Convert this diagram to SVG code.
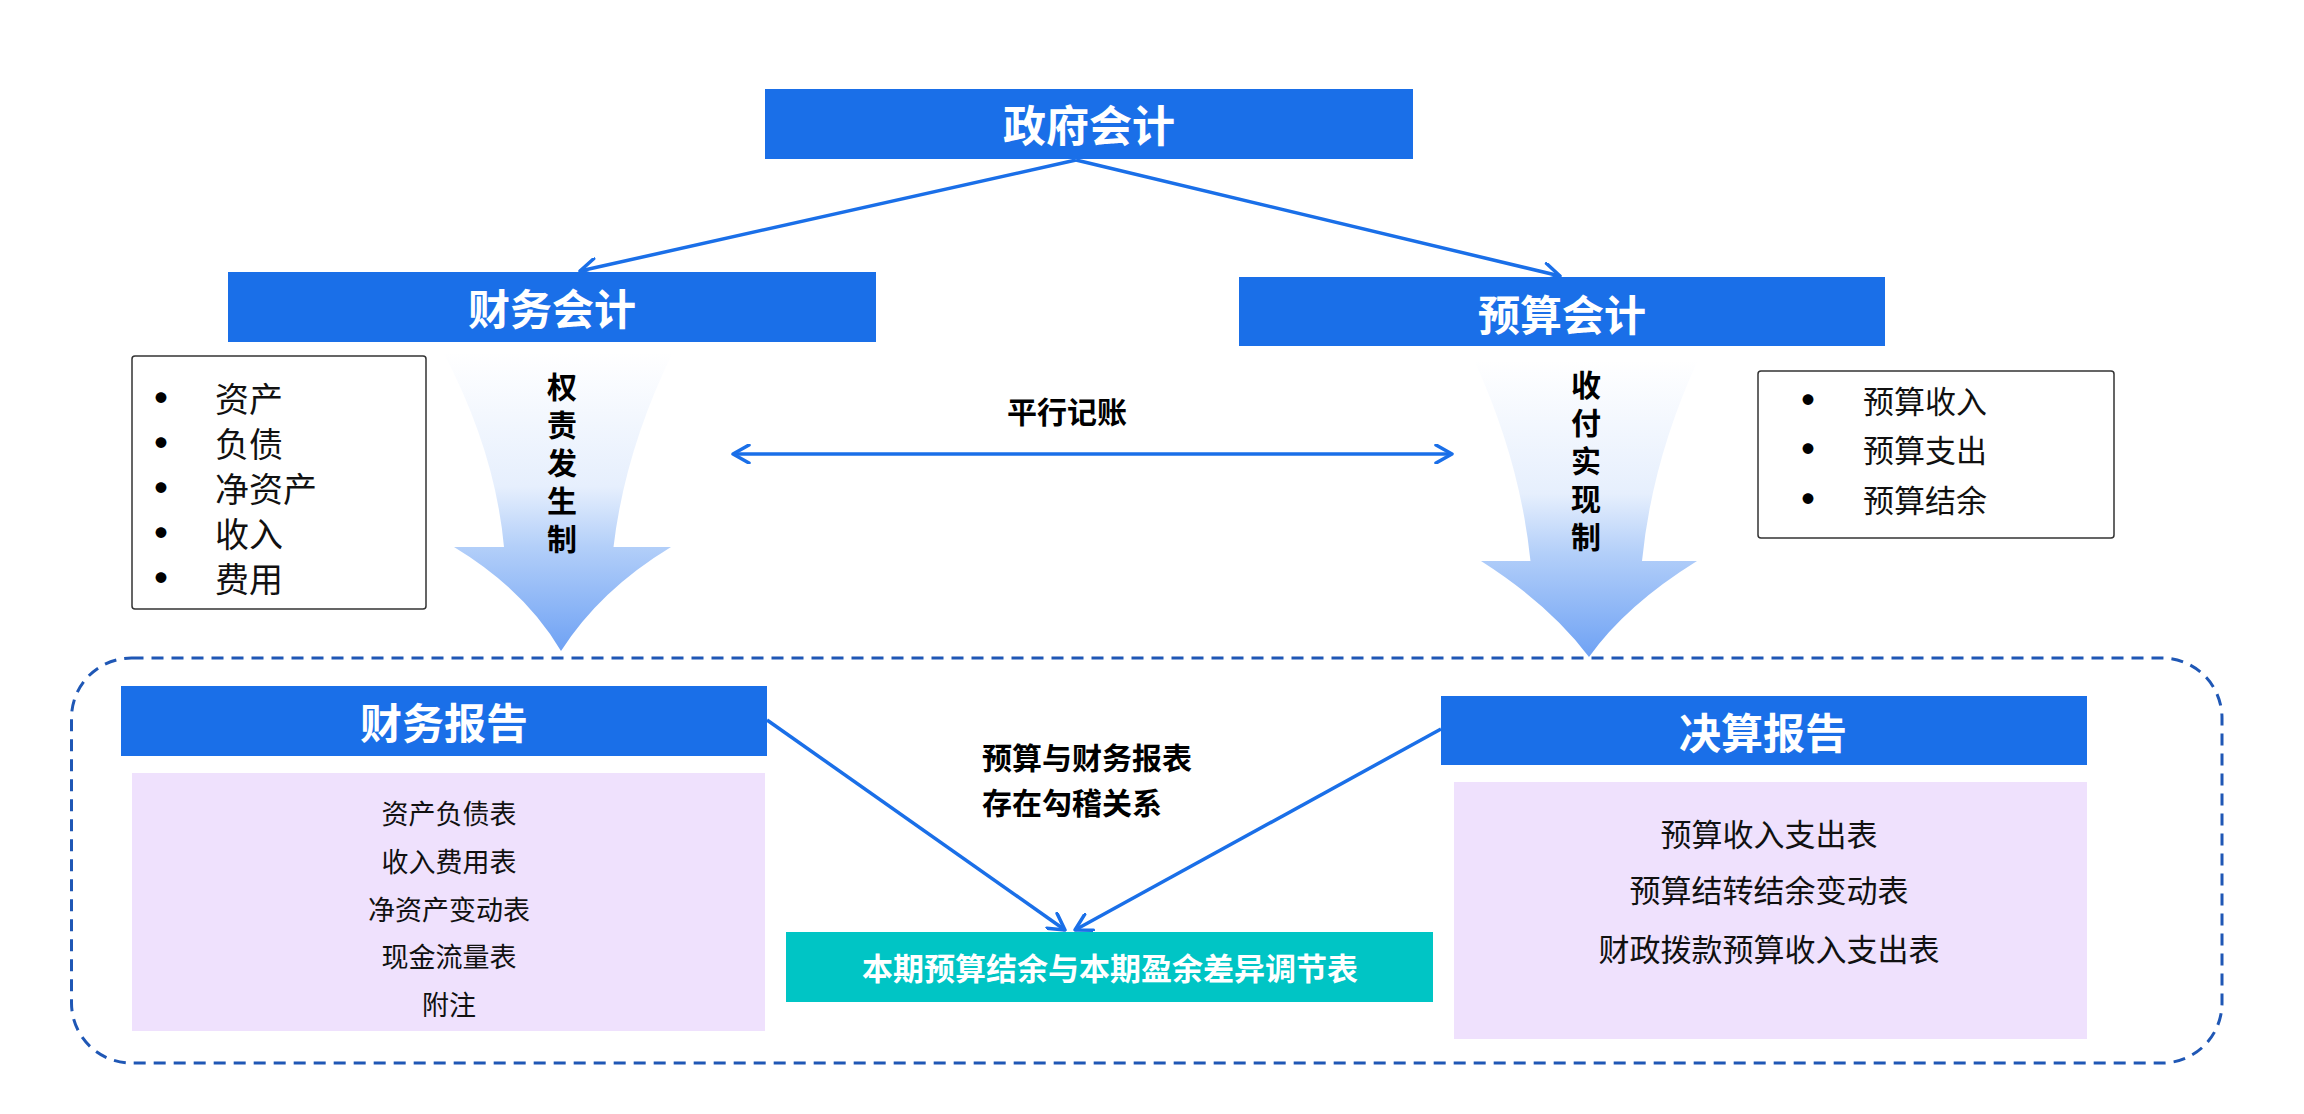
<svg xmlns="http://www.w3.org/2000/svg" width="2304" height="1114" viewBox="0 0 2304 1114">
<defs>
<style>
.box{fill:#1a6fe8}
.title{font-family:"Noto Sans CJK SC","Noto Sans",sans-serif;font-weight:700;fill:#ffffff;text-anchor:middle;dominant-baseline:central}
.lbl{font-family:"Noto Sans CJK SC","Noto Sans",sans-serif;fill:#111111;dominant-baseline:central}
.bul{font-family:"Noto Sans CJK SC","Noto Sans",sans-serif;fill:#000000;dominant-baseline:central;font-size:12px}
.bold{font-family:"Noto Sans CJK SC","Noto Sans",sans-serif;font-weight:700;fill:#000000;dominant-baseline:central}
.vert{font-family:"Noto Sans CJK SC","Noto Sans",sans-serif;font-weight:700;fill:#000000;writing-mode:vertical-rl;font-size:30px;letter-spacing:8px}
.list{fill:#ffffff;stroke:#333333;stroke-width:1.5}
.lav{fill:#efe1fd}
.conn{fill:none;stroke:#1a6fe8;stroke-width:3.5}
</style>
<marker id="ah" viewBox="0 0 20 20" refX="18" refY="10" markerWidth="20" markerHeight="20" markerUnits="userSpaceOnUse" orient="auto-start-reverse">
<path d="M2,1 L18,10 L2,19" fill="none" stroke="#1a6fe8" stroke-width="3.5" stroke-linecap="round" stroke-linejoin="round"/>
</marker>
<linearGradient id="fat" x1="0" y1="0" x2="0" y2="1">
<stop offset="0" stop-color="#ffffff"/>
<stop offset="0.45" stop-color="#e6effd"/>
<stop offset="0.65" stop-color="#b3cff9"/>
<stop offset="1" stop-color="#6fa2f4"/>
</linearGradient>
</defs>

<!-- container -->
<g id="container">
<rect x="71.5" y="658" width="2150.5" height="405" rx="60" ry="60" fill="none" stroke="#1f57b5" stroke-width="3" stroke-dasharray="12 8"/>
</g>

<!-- big gradient arrows -->
<g id="arrow-accrual">
<path d="M443,352 L673,352 Q625,450 613.5,547 L671,547 Q600,590 561,651 Q525,590 454,547 L504,547 Q495,450 443,352 Z" fill="url(#fat)"/>
<text class="vert" x="562" y="372">权责发生制</text>
</g>
<g id="arrow-cash">
<path d="M1474,360 L1698,360 Q1652,460 1642,561 L1697,561 Q1626,605 1589,657 Q1550,605 1481,561 L1530.5,561 Q1520,460 1474,360 Z" fill="url(#fat)"/>
<text class="vert" x="1586" y="370">收付实现制</text>
</g>

<!-- connectors -->
<g id="connectors">
<line class="conn" x1="1076" y1="160" x2="580" y2="271" marker-end="url(#ah)"/>
<line class="conn" x1="1076" y1="160" x2="1560" y2="276" marker-end="url(#ah)"/>
<line class="conn" x1="733" y1="454" x2="1452" y2="454" marker-start="url(#ah)" marker-end="url(#ah)"/>
<line class="conn" x1="767" y1="720" x2="1065" y2="930" marker-end="url(#ah)"/>
<line class="conn" x1="1441" y1="729" x2="1075" y2="930" marker-end="url(#ah)"/>
<text class="bold" x="1067" y="410" font-size="30" text-anchor="middle">平行记账</text>
<text class="bold" font-size="30"><tspan x="982" y="756">预算与财务报表</tspan><tspan x="982" y="801">存在勾稽关系</tspan></text>
</g>

<!-- nodes -->
<g id="gov">
<rect class="box" x="765" y="89" width="648" height="70"/>
<text class="title" x="1089" y="123" font-size="43">政府会计</text>
</g>
<g id="fin">
<rect class="box" x="228" y="272" width="648" height="70"/>
<text class="title" x="552" y="306" font-size="42">财务会计</text>
</g>
<g id="bud">
<rect class="box" x="1239" y="277" width="646" height="69"/>
<text class="title" x="1562" y="312" font-size="42">预算会计</text>
</g>
<g id="fin-list">
<rect class="list" x="132" y="356" width="294" height="253" rx="3"/>
<g class="lbl" font-size="34">
<text class="bul" x="155" y="397">●</text><text x="215" y="397">资产</text>
<text class="bul" x="155" y="442">●</text><text x="215" y="442">负债</text>
<text class="bul" x="155" y="487">●</text><text x="215" y="487">净资产</text>
<text class="bul" x="155" y="532">●</text><text x="215" y="532">收入</text>
<text class="bul" x="155" y="577">●</text><text x="215" y="577">费用</text>
</g>
</g>
<g id="bud-list">
<rect class="list" x="1758" y="371" width="356" height="167" rx="3"/>
<g class="lbl" font-size="31">
<text class="bul" x="1802" y="399">●</text><text x="1863" y="399">预算收入</text>
<text class="bul" x="1802" y="448">●</text><text x="1863" y="448">预算支出</text>
<text class="bul" x="1802" y="498">●</text><text x="1863" y="498">预算结余</text>
</g>
</g>
<g id="fin-report">
<rect class="box" x="121" y="686" width="646" height="70"/>
<text class="title" x="444" y="720" font-size="42">财务报告</text>
<rect class="lav" x="132" y="773" width="633" height="258"/>
<g class="lbl" font-size="27" text-anchor="middle">
<text x="449" y="812">资产负债表</text>
<text x="449" y="860">收入费用表</text>
<text x="449" y="908">净资产变动表</text>
<text x="449" y="955">现金流量表</text>
<text x="449" y="1003">附注</text>
</g>
</g>
<g id="final-report">
<rect class="box" x="1441" y="696" width="646" height="69"/>
<text class="title" x="1763" y="730" font-size="42">决算报告</text>
<rect class="lav" x="1454" y="782" width="633" height="257"/>
<g class="lbl" font-size="31" text-anchor="middle">
<text x="1769" y="832">预算收入支出表</text>
<text x="1769" y="888">预算结转结余变动表</text>
<text x="1769" y="947">财政拨款预算收入支出表</text>
</g>
</g>
<g id="reconcile">
<rect x="786" y="932" width="647" height="70" fill="#00c5c5"/>
<text class="title" x="1110" y="966" font-size="31">本期预算结余与本期盈余差异调节表</text>
</g>
</svg>
